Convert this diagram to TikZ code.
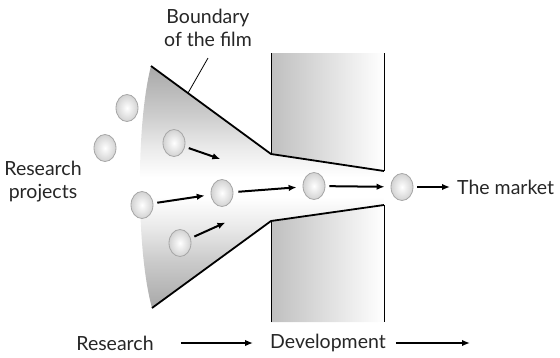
\documentclass[tikz,border=0pt]{standalone}
\usepackage{fontspec}
\setmainfont{Lato}
\usetikzlibrary{positioning,arrows.meta,shapes.geometric}
\pgfdeclareverticalshading{filmshade}{100bp}{color(0bp)=(gray!68); color(25bp)=(gray!68); color(35bp)=(gray!40); color(42bp)=(gray!16); color(48bp)=(white); color(52bp)=(white); color(58bp)=(gray!16); color(65bp)=(gray!40); color(75bp)=(gray!68); color(100bp)=(gray!68)}

\begin{document}
\begin{tikzpicture}[x=1pt,y=-1pt]
\tikzstyle{particle}=[ellipse,minimum width=22pt,minimum height=27pt,inner sep=0pt,draw=gray!70,line width=0.8pt,inner color=white,outer color=gray!35]
\tikzstyle{flow}=[-{Latex[length=8pt,width=6.5pt]},line width=2pt,shorten <=4pt,shorten >=6pt]
\tikzstyle{label}=[font=\fontsize{19.5}{23}\selectfont,text=black!85,align=center,inner sep=0pt]
\tikzstyle{film}=[line width=1.8pt,line join=round]
\useasboundingbox (0,0) rectangle (560,357);
%%%%%%%%%%%%%%%%%%%%%%%%%%%%%%%%%%%%%%%%%%%%%%%%%%%%%%%%%%%%%%%%%%%%%%%%%%%%%%%%%%%%%%%%
%% Draw development column and film
%%%%%%%%%%%%%%%%%%%%%%%%%%%%%%%%%%%%%%%%%%%%%%%%%%%%%%%%%%%%%%%%%%%%%%%%%%%%%%%%%%%%%%%%
% column
\shade[left color=gray!50,right color=white] (271,53) -- (384,53) -- (384,171) -- (271,154) -- cycle;
\shade[left color=gray!50,right color=white] (271,221) -- (384,205) -- (384,322) -- (271,322) -- cycle;
\draw[line width=0.8pt] (271,53) -- (271,154);
\draw[line width=0.8pt] (271,221) -- (271,322);
\draw[line width=0.8pt] (384,53) -- (384,171);
\draw[line width=0.8pt] (384,205) -- (384,322);

% film
\shade[shading=filmshade] (151,66) -- (271,154) -- (384,171) -- (384,205) -- (271,221) -- (152,308) .. controls (136,250) and (136,124) .. (151,66);
\draw[film] (151,66) -- (271,154) -- (384,171);
\draw[film] (152,308) -- (271,221) -- (384,205);
%%%%%%%%%%%%%%%%%%%%%%%%%%%%%%%%%%%%%%%%%%%%%%%%%%%%%%%%%%%%%%%%%%%%%%%%%%%%%%%%%%%%%%%%

%%%%%%%%%%%%%%%%%%%%%%%%%%%%%%%%%%%%%%%%%%%%%%%%%%%%%%%%%%%%%%%%%%%%%%%%%%%%%%%%%%%%%%%%
%% Draw projects
%%%%%%%%%%%%%%%%%%%%%%%%%%%%%%%%%%%%%%%%%%%%%%%%%%%%%%%%%%%%%%%%%%%%%%%%%%%%%%%%%%%%%%%%
\node[particle] (p1) at (127,108) {};
\node[particle] (p2) at (105,148) {};
\node[particle] (p3) at (174,143) {};
\node[particle] (p4) at (142,205) {};
\node[particle] (p5) at (180,243) {};
\node[particle] (p6) at (222,193) {};
\node[particle] (p7) at (314,186) {};
\node[particle] (p8) at (402,187) {};
\coordinate (t3) at (226,161);
\coordinate (t5) at (231,220);

\draw[flow] (p3) -- (t3);
\draw[flow] (p5) -- (t5);
\draw[flow] (p4) -- (p6);
\draw[flow,shorten <=5pt] (p6) -- (p7);
\draw[flow] (p7) -- (p8);
%%%%%%%%%%%%%%%%%%%%%%%%%%%%%%%%%%%%%%%%%%%%%%%%%%%%%%%%%%%%%%%%%%%%%%%%%%%%%%%%%%%%%%%%

%%%%%%%%%%%%%%%%%%%%%%%%%%%%%%%%%%%%%%%%%%%%%%%%%%%%%%%%%%%%%%%%%%%%%%%%%%%%%%%%%%%%%%%%
%% Draw labels
%%%%%%%%%%%%%%%%%%%%%%%%%%%%%%%%%%%%%%%%%%%%%%%%%%%%%%%%%%%%%%%%%%%%%%%%%%%%%%%%%%%%%%%%
\node[label] (boundary) at (208,28) {Boundary\\of the film};
\coordinate (edge) at (188,93);
\draw[line width=0.8pt] (208,58) -- (edge);

\node[label] (projects) at (43,182) {Research\\projects};
\node[label,anchor=west] (market) at (457,187) {The market};
\draw[flow,shorten <=4pt,shorten >=7pt] (p8) -- (market);

\node[label] (research) at (115,343) {Research};
\node[label] (development) at (328,343) {Development};
\coordinate (future) at (470,343);
\draw[flow,shorten <=27pt,shorten >=17pt] (research) -- (development);
\draw[flow,shorten <=10pt,shorten >=0pt] (development) -- (future);
%%%%%%%%%%%%%%%%%%%%%%%%%%%%%%%%%%%%%%%%%%%%%%%%%%%%%%%%%%%%%%%%%%%%%%%%%%%%%%%%%%%%%%%%

\end{tikzpicture}
\end{document}
